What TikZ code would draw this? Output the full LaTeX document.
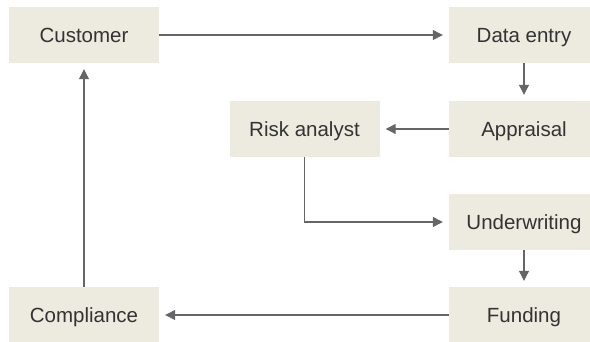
\documentclass[tikz,border=0pt]{standalone}
\usepackage{fontspec}
\setmainfont{Liberation Sans}
\usetikzlibrary{arrows.meta}
\definecolor{boxfill}{HTML}{EDEAE0}
\definecolor{linegray}{HTML}{666666}
\definecolor{textgray}{HTML}{333333}
\begin{document}
\begin{tikzpicture}[x=1pt,y=-1pt,
  stage/.style={fill=boxfill, minimum width=150pt, minimum height=56pt,
    inner sep=0pt, text height=14.7pt, text depth=0pt, text=textgray,
    font=\fontsize{20.5}{24}\selectfont},
  flow/.style={draw=linegray, line width=1.1pt,
    -{Triangle[length=10pt,width=10pt]}, shorten >=6pt}]
\clip (0,0) rectangle (590,342);

% process stages
\node[stage] (customer)    at (84,35)    {Customer};
\node[stage] (dataentry)   at (524,35)   {Data entry};
\node[stage] (appraisal)   at (524,129)  {Appraisal};
\node[stage] (risk)        at (304.5,129) {Risk analyst};
\node[stage] (underwrite)  at (524,222)  {Underwriting};
\node[stage] (funding)     at (524,315)  {Funding};
\node[stage] (compliance)  at (84,315)   {Compliance};

% flow between stages
\draw[flow] (customer.east) -- (dataentry.west);
\draw[flow] (dataentry.south) -- (appraisal.north);
\draw[flow] (appraisal.west) -- (risk.east);
\draw[flow] (risk.south) |- (underwrite.west);
\draw[flow] (underwrite.south) -- (funding.north);
\draw[flow] (funding.west) -- (compliance.east);
\draw[flow] (compliance.north) -- (customer.south);
\end{tikzpicture}
\end{document}
